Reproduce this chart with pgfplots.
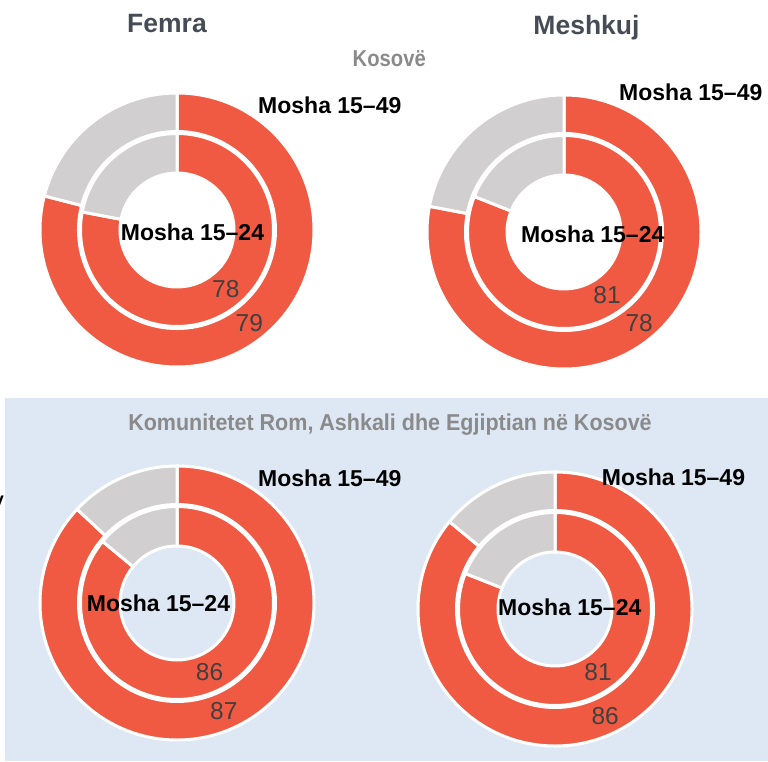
\documentclass[border=0pt]{standalone}
\usepackage{fontspec}
\setmainfont{Liberation Sans}
\usepackage{pgfplots}
\usepackage{pgfplotstable}
\pgfplotsset{compat=1.18}
\definecolor{ring}{RGB}{241,90,66}
\definecolor{rest}{RGB}{209,207,208}
\definecolor{panel}{RGB}{221,232,244}
\definecolor{ttl}{RGB}{70,76,85}
\definecolor{sub}{RGB}{138,138,138}
\definecolor{num}{RGB}{64,64,64}
\tikzset{lab/.style={anchor=base west, inner sep=0, text=black, font=\bfseries\fontsize{23}{23}\selectfont}}

% centre (px, y downward negative), inner ring value (15-24), outer ring value (15-49)
\pgfplotstableread{
cx   cy    inner outer
177  -230  78    79
564  -232  81    78
177  -603  86    87
555  -609  81    86
}\donuts

\newcommand\sector[5]{% colour, a1, a2, r, R
  \filldraw[fill=#1, draw=white, line width=3pt]
    (#2:#5pt) arc[start angle=#2, end angle=#3, radius=#5pt]
    -- (#3:#4pt) arc[start angle=#3, end angle=#2, radius=#4pt] -- cycle;}

\newcommand\donut[4]{%
  \begin{scope}[shift={(axis cs:#1,#2)}]
    \pgfmathsetmacro\ai{90-3.6*#3}%
    \pgfmathsetmacro\ao{90-3.6*#4}%
    \pgfmathsetmacro\mi{90-1.8*#3}%
    \pgfmathsetmacro\mo{90-1.8*#4}%
    \sector{ring}{90}{\ao}{98.5}{137}
    \sector{rest}{\ao}{-270}{98.5}{137}
    \sector{ring}{90}{\ai}{57}{96.5}
    \sector{rest}{\ai}{-270}{57}{96.5}
    \node[text=num, inner sep=0, font=\fontsize{24.5}{24.5}\selectfont] at (\mi:76.5pt) {#3};
    \node[text=num, inner sep=0, font=\fontsize{24.5}{24.5}\selectfont] at (\mo:118pt) {#4};
  \end{scope}}

\begin{document}
\begin{tikzpicture}
\begin{axis}[x=1pt, y=1pt, xmin=0, xmax=768, ymin=-761, ymax=0,
  hide axis, clip=false]
\addplot[fill=panel, draw=none] coordinates {(5,-398) (768,-398) (768,-761) (5,-761)} -- cycle;
\pgfplotsextra{%
  \foreach \i in {0,...,3}{%
    \pgfplotstablegetelem{\i}{cx}\of\donuts \let\cx\pgfplotsretval
    \pgfplotstablegetelem{\i}{cy}\of\donuts \let\cy\pgfplotsretval
    \pgfplotstablegetelem{\i}{inner}\of\donuts \let\vin\pgfplotsretval
    \pgfplotstablegetelem{\i}{outer}\of\donuts \let\vout\pgfplotsretval
    \donut{\cx}{\cy}{\vin}{\vout}%
  }%
}
\node[anchor=base, inner sep=0, text=ttl, font=\bfseries\fontsize{26.5}{26.5}\selectfont] at (axis cs:167,-32.7) {Femra};
\node[anchor=base, inner sep=0, text=ttl, font=\bfseries\fontsize{26.5}{26.5}\selectfont] at (axis cs:586.5,-35) {Meshkuj};
\node[anchor=base, inner sep=0, text=sub, font=\bfseries\fontsize{23}{23}\selectfont] at (axis cs:389.3,-66.7) {\scalebox{0.88}[1]{Kosovë}};
\node[anchor=base, inner sep=0, text=sub, font=\bfseries\fontsize{23}{23}\selectfont] at (axis cs:390,-431) {\scalebox{0.935}[1]{Komunitetet Rom, Ashkali dhe Egjiptian në Kosovë}};
\node[lab] at (axis cs:258,-113.3) {Mosha 15–49};
\node[lab] at (axis cs:619,-100.7) {Mosha 15–49};
\node[lab] at (axis cs:258,-486) {Mosha 15–49};
\node[lab] at (axis cs:601.7,-485.7) {Mosha 15–49};
\node[lab] at (axis cs:120.7,-240.7) {Mosha 15–24};
\node[lab] at (axis cs:521,-242.3) {Mosha 15–24};
\node[lab] at (axis cs:86.7,-611.7) {Mosha 15–24};
\node[lab] at (axis cs:498,-615) {Mosha 15–24};
\node[anchor=base east, inner sep=0, text=black, font=\bfseries\fontsize{18}{18}\selectfont] at (axis cs:4,-506) {y};
\end{axis}
\pgfresetboundingbox
\path[use as bounding box] (current axis.south west) rectangle (current axis.north east);
\end{tikzpicture}
\end{document}
